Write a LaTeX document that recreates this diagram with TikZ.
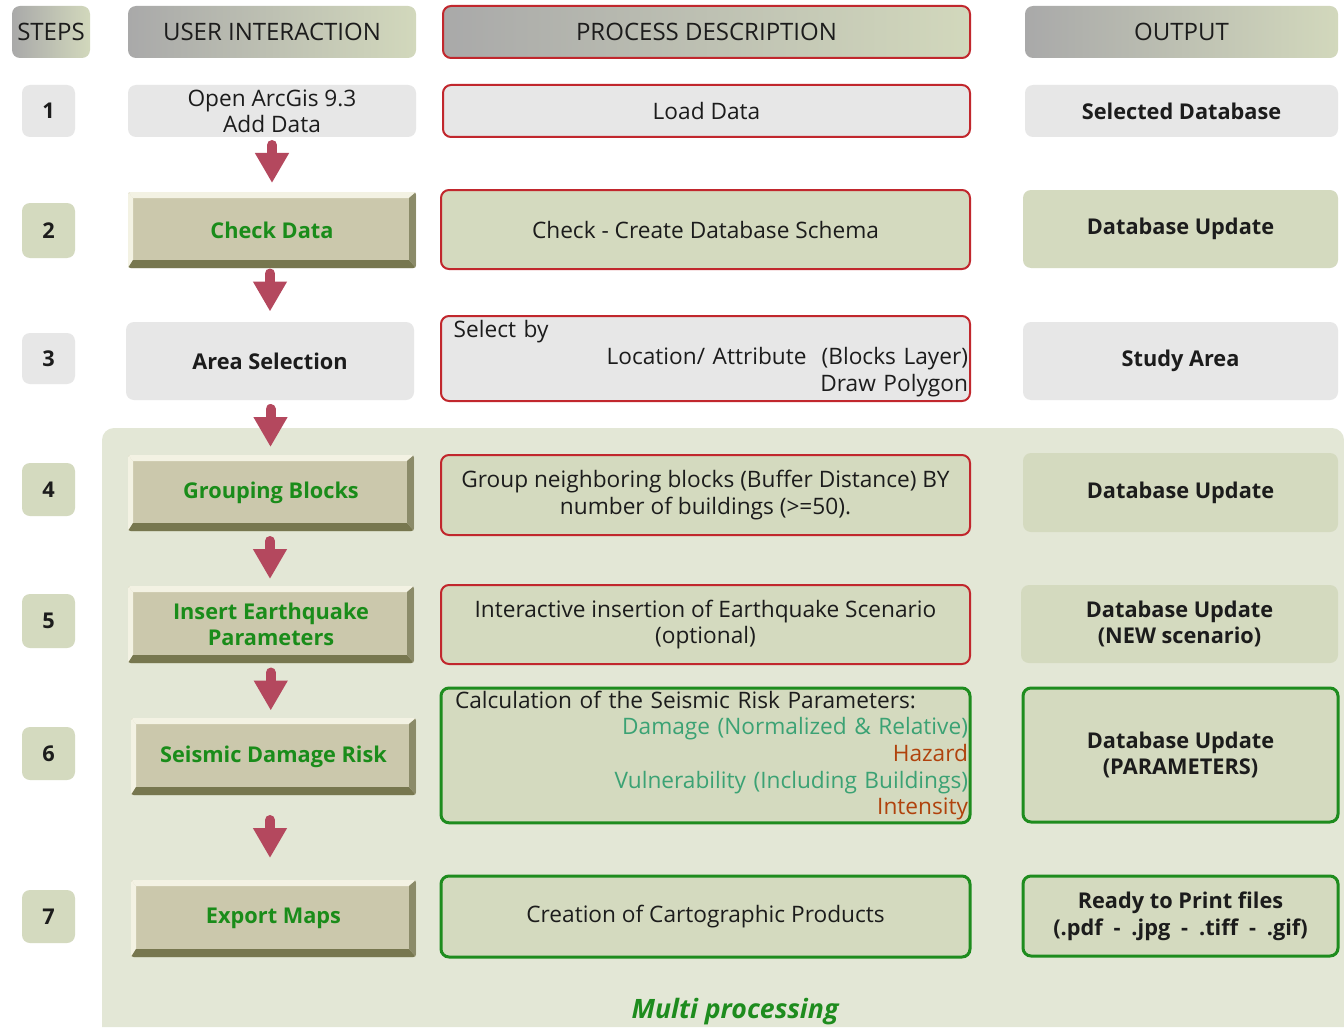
\documentclass[tikz,border=0pt]{standalone}
\usepackage{fontspec}
\setmainfont{Open Sans}
\usetikzlibrary{arrows.meta,calc}
\definecolor{hdrA}{HTML}{A9A9A9}
\definecolor{hdrB}{HTML}{D2D8BC}
\definecolor{lgray}{HTML}{E7E7E7}
\definecolor{lgreen}{HTML}{D4DABF}
\definecolor{bgreen}{HTML}{E3E7D6}
\definecolor{redline}{HTML}{C1272D}
\definecolor{greenline}{HTML}{1E8C1E}
\definecolor{btnface}{HTML}{CBC8AC}
\definecolor{btnlight}{HTML}{F3F2E3}
\definecolor{btndark}{HTML}{77774F}
\definecolor{btntext}{HTML}{1A8C1A}
\definecolor{arrowc}{HTML}{B4485E}
\definecolor{tealt}{HTML}{3BA274}
\definecolor{rust}{HTML}{B0420C}
\definecolor{ink}{HTML}{1C1C1C}
\newcommand\mkbox[7]{\node[#1, minimum width={(#5-#3)*0.75pt}, minimum height={(#6-#4)*0.75pt}] (#2) at (#3,#4) {#7};}
\def\ppb{path picture bounding box}
\tikzset{
  base/.style={anchor=north west, outer sep=0pt, inner sep=2pt, align=center,
    rounded corners=6pt, font=\fontsize{17}{20}\selectfont, text=ink},
  hdr/.style={base, left color=hdrA, right color=hdrB, font=\fontsize{18}{20}\selectfont},
  hdrred/.style={hdr, draw=redline, line width=1.5pt},
  graybox/.style={base, fill=lgray},
  greenbox/.style={base, fill=lgreen},
  redbox/.style={base, draw=redline, line width=1.5pt, fill=lgray},
  redgbox/.style={base, draw=redline, line width=1.5pt, fill=lgreen},
  grnbox/.style={base, draw=greenline, line width=2.25pt, fill=lgreen},
  bold/.style={font=\fontsize{16.3}{20}\selectfont\bfseries},
  bevel/.style={base, fill=btnface, rounded corners=2pt, text=btntext,
    font=\fontsize{16.3}{20}\selectfont\bfseries,
    path picture={
      \fill[btnlight, sharp corners] (\ppb.north west) -- (\ppb.north east)
        -- ([shift={(-5.25pt,-4.5pt)}]\ppb.north east)
        -- ([shift={(3.75pt,-4.5pt)}]\ppb.north west) -- cycle;
      \fill[btnlight, sharp corners] (\ppb.north west)
        -- ([shift={(3.75pt,-4.5pt)}]\ppb.north west)
        -- ([shift={(3.75pt,6pt)}]\ppb.south west)
        -- (\ppb.south west) -- cycle;
      \fill[btndark, sharp corners] (\ppb.south west) -- (\ppb.south east)
        -- ([shift={(-5.25pt,6pt)}]\ppb.south east)
        -- ([shift={(3.75pt,6pt)}]\ppb.south west) -- cycle;
      \fill[btndark!85!white, sharp corners] (\ppb.north east) -- (\ppb.south east)
        -- ([shift={(-5.25pt,6pt)}]\ppb.south east)
        -- ([shift={(-5.25pt,-4.5pt)}]\ppb.north east) -- cycle;
    }},
  redarrow/.style={arrowc, line width=7.5pt, line cap=round,
    -{Triangle[width=24pt, length=22.5pt]}},
}
\begin{document}
\begin{tikzpicture}[x=0.75pt, y=-0.75pt]
\useasboundingbox[fill=white] (0,0) rectangle (1344,1027);
% multi-processing region
\fill[bgreen] (102,1027) [rounded corners=9pt] -- (102,428) -- (1344,428) [sharp corners] -- (1344,1027) -- cycle;
\node[font=\fontsize{20}{22}\selectfont\bfseries\itshape, text=greenline] (mlabel) at (735,1012) {Multi processing};
% headers
\mkbox{hdr}{hs}{12}{6}{90}{58}{STEPS}
\mkbox{hdr}{hu}{128}{6}{416}{58}{USER INTERACTION}
\mkbox{hdrred}{hp}{443}{6}{970}{58}{PROCESS DESCRIPTION}
\mkbox{hdr}{ho}{1025}{6}{1338}{58}{OUTPUT}
% row 1
\mkbox{graybox,bold}{s1}{22}{85}{75}{137}{1}
\mkbox{graybox,font=\fontsize{17}{19.5}\selectfont}{u1}{128}{85}{416}{137}{Open ArcGis 9.3\\Add Data}
\mkbox{redbox}{p1}{443}{85}{970}{137}{Load Data}
\mkbox{graybox,bold}{o1}{1025}{85}{1338}{137}{Selected Database}
% row 2
\mkbox{greenbox,bold}{s2}{22}{203}{75}{258}{2}
\mkbox{bevel}{u2}{128}{192}{416}{268}{Check Data}
\mkbox{redgbox}{p2}{441}{190}{970}{269}{Check - Create Database Schema}
\mkbox{greenbox,bold}{o2}{1023}{190}{1338}{268}{Database Update}
% row 3
\mkbox{graybox,bold}{s3}{22}{333}{75}{384}{3}
\mkbox{graybox,bold}{u3}{126}{322}{414}{400}{Area Selection}
\mkbox{redbox,align=right,inner xsep=1.5pt,text width={(970-441-4)*0.75pt}}{p3}{441}{316}{970}{401}{\makebox[\hsize][l]{\hspace*{8pt}Select by}\\Location/ Attribute\ \ (Blocks Layer)\\Draw Polygon}
\mkbox{graybox,bold}{o3}{1023}{322}{1338}{400}{Study Area}
% row 4
\mkbox{greenbox,bold}{s4}{22}{463}{75}{516}{4}
\mkbox{bevel}{u4}{128}{455}{414}{531}{Grouping Blocks}
\mkbox{redgbox}{p4}{441}{455}{970}{535}{Group neighboring blocks (Buffer Distance) BY\\number of buildings (>=50).}
\mkbox{greenbox,bold}{o4}{1023}{453}{1338}{532}{Database Update}
% row 5
\mkbox{greenbox,bold}{s5}{22}{594}{75}{648}{5}
\mkbox{bevel}{u5}{128}{586}{414}{663}{Insert Earthquake\\Parameters}
\mkbox{redgbox}{p5}{441}{585}{970}{664}{Interactive insertion of Earthquake Scenario\\(optional)}
\mkbox{greenbox,bold}{o5}{1021}{585}{1338}{663}{Database Update\\(NEW scenario)}
% row 6
\mkbox{greenbox,bold}{s6}{22}{727}{75}{780}{6}
\mkbox{bevel}{u6}{131}{718}{416}{795}{Seismic Damage Risk}
\mkbox{grnbox,align=right,inner xsep=1.5pt,text width={(970-441-4)*0.75pt}}{p6}{441}{688}{970}{822}{\makebox[\hsize][l]{\hspace*{9pt}Calculation of the Seismic Risk Parameters:}\\\textcolor{tealt}{Damage (Normalized \& Relative)}\\\textcolor{rust}{Hazard}\\\textcolor{tealt}{Vulnerability (Including Buildings)}\\\textcolor{rust}{Intensity}}
\mkbox{grnbox,bold}{o6}{1023}{688}{1338}{822}{Database Update\\(PARAMETERS)}
% row 7
\mkbox{greenbox,bold}{s7}{22}{890}{75}{943}{7}
\mkbox{bevel}{u7}{131}{880}{416}{957}{Export Maps}
\mkbox{grnbox}{p7}{441}{876}{970}{957}{Creation of Cartographic Products}
\mkbox{grnbox,bold}{o7}{1023}{876}{1338}{956}{Ready to Print files\\(.pdf\enspace-\enspace.jpg\enspace-\enspace.tiff\enspace-\enspace.gif)}
% arrows
\foreach \a/\b/\d/\xo in {u1/u2/-2.5/0,u2/u3/-4.5/-1,u3/u4/-1.5/0,u4/u5/-0.5/-1,u5/u6/-1/-1.5,u6/u7/-0.5/-3.5}{
  \draw[redarrow] ($(\a.south)!.5!(\b.north)+(\xo,\d-17)$) -- ($(\a.south)!.5!(\b.north)+(\xo,\d+21)$);
}
\end{tikzpicture}
\end{document}
